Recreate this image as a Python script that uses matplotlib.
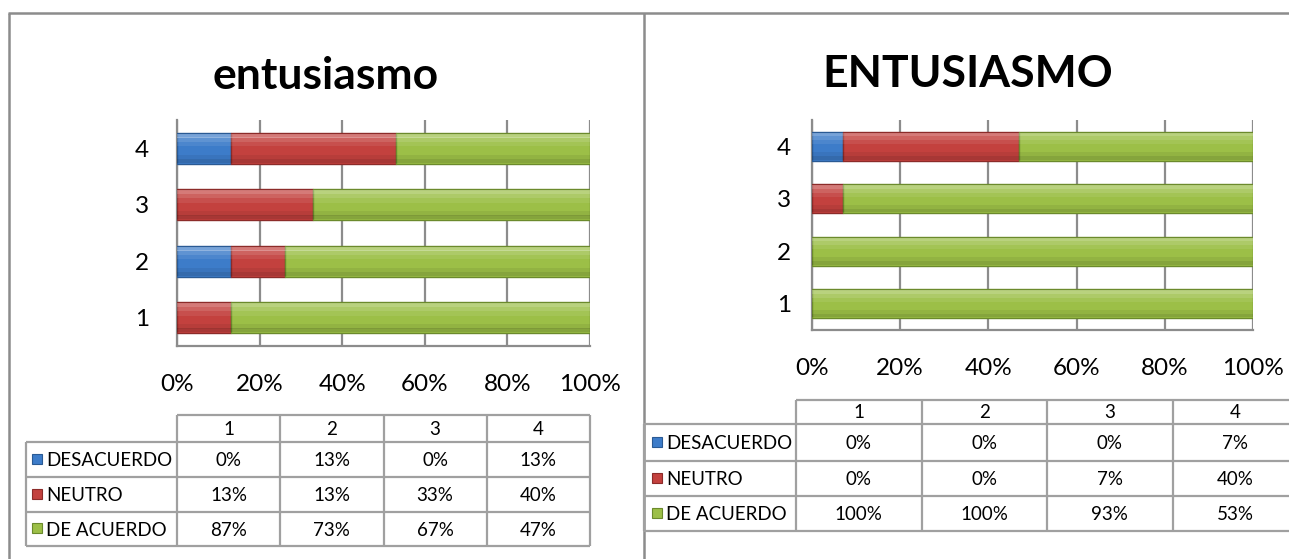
import matplotlib
matplotlib.use("Agg")
import matplotlib.pyplot as plt
from matplotlib.lines import Line2D
from matplotlib.patches import Rectangle

plt.rcParams['font.family'] = ['Lato', 'DejaVu Sans']

# ---------------- data ----------------
categories = ["1", "2", "3", "4"]
series_names = ["DESACUERDO", "NEUTRO", "DE ACUERDO"]
left_title = "entusiasmo"
right_title = "ENTUSIASMO"
left_desacuerdo = [0, 13, 0, 13]
left_neutro = [13, 13, 33, 40]
left_de_acuerdo = [87, 73, 67, 47]
right_desacuerdo = [0, 0, 0, 7]
right_neutro = [0, 0, 7, 40]
right_de_acuerdo = [100, 100, 93, 53]
x_ticks = [0, 20, 40, 60, 80, 100]

colors = ["#3D7CC9", "#C3413E", "#9CBF47"]
edges = ["#2A5A94", "#8C2B29", "#6B8A2C"]

W, H = 1289, 559
fig = plt.figure(figsize=(W / 100, H / 100), dpi=100)
fig.patch.set_facecolor("white")

ov = fig.add_axes([0, 0, 1, 1])
ov.set_xlim(0, W)
ov.set_ylim(H, 0)
ov.axis("off")

def box(x0, y0, x1, y1):
    return [x0 / W, 1 - y1 / H, (x1 - x0) / W, (y1 - y0) / H]

def hline(y, x0, x1, c="#A0A0A0", lw=1.6):
    ov.add_line(Line2D([x0, x1], [y, y], color=c, lw=lw, solid_capstyle="butt"))

def vline(x, y0, y1, c="#A0A0A0", lw=1.6):
    ov.add_line(Line2D([x, x], [y0, y1], color=c, lw=lw, solid_capstyle="butt"))

# panel borders
border = "#8C8C8C"
hline(13, 8, 1289, c=border, lw=1.8)
vline(9, 13, 559, c=border, lw=1.8)
vline(643.5, 13, 559, c=border, lw=1.8)

# bevel shading bands: (relative offset from centre, relative height, colour, alpha)
bands = [(0.40, 0.12, "white", 0.30), (0.28, 0.14, "white", 0.18), (0.14, 0.14, "white", 0.08),
         (-0.28, 0.14, "black", 0.06), (-0.40, 0.12, "black", 0.14)]

def draw_bars(rect, data, title, title_xy, xpad, ypad):
    ax = fig.add_axes(box(*rect))
    ax.patch.set_alpha(0)
    ypos = list(range(len(categories)))
    totals = [sum(col) for col in zip(*data)]
    left = [0.0] * len(categories)
    h = 0.55
    for vals, c, e in zip(data, colors, edges):
        pct = [v / t * 100 for v, t in zip(vals, totals)]
        ax.barh(ypos, pct, left=left, height=h, color=c, edgecolor=e, linewidth=1.0, zorder=3)
        for off, bh, bc, al in bands:
            ax.barh([p + off * h for p in ypos], pct, left=left, height=bh * h,
                    color=bc, alpha=al, linewidth=0, zorder=4)
        left = [a + b for a, b in zip(left, pct)]
    ax.set_xlim(0, 100)
    ax.set_ylim(-0.5, len(categories) - 0.5)
    ax.set_xticks(x_ticks)
    ax.set_xticklabels([f"{t}%" for t in x_ticks])
    ax.set_yticks(ypos)
    ax.set_yticklabels(categories)
    ax.grid(axis="x", color="#8C8C8C", lw=1.6, zorder=0)
    ax.set_axisbelow(True)
    for s in ["top", "right"]:
        ax.spines[s].set_visible(False)
    for s in ["left", "bottom"]:
        ax.spines[s].set_color("#8C8C8C")
        ax.spines[s].set_linewidth(1.6)
    ax.tick_params(axis="x", length=0, pad=xpad, labelsize=17.5)
    ax.tick_params(axis="y", length=0, pad=ypad, labelsize=17.5)
    ov.text(title_xy[0], title_xy[1], title, ha="center", va="center",
            fontsize=32, fontweight="bold")
    return ax

draw_bars((177, 120, 590, 346), [left_desacuerdo, left_neutro, left_de_acuerdo],
          left_title, (326, 76), 20, 20)
draw_bars((812, 120, 1253, 330), [right_desacuerdo, right_neutro, right_de_acuerdo],
          right_title, (968, 74), 20, 15)

def draw_table(lab_x0, col_edges, row_edges, data, sq_x):
    tc = "#A0A0A0"
    x_end = min(col_edges[-1], W)
    hline(row_edges[0], col_edges[0], x_end, tc)
    for y in row_edges[1:]:
        hline(y, lab_x0, x_end, tc)
    vline(lab_x0, row_edges[1], row_edges[-1], tc)
    for x in col_edges:
        if x <= W:
            vline(x, row_edges[0], row_edges[-1], tc)
    fs = 13.5
    for j, cat in enumerate(categories):
        cx = (col_edges[j] + col_edges[j + 1]) / 2
        ov.text(cx, (row_edges[0] + row_edges[1]) / 2 + 1, cat, ha="center", va="center", fontsize=fs)
    for i, (name, vals) in enumerate(zip(series_names, data)):
        cy = (row_edges[i + 1] + row_edges[i + 2]) / 2
        ov.add_patch(Rectangle((sq_x, cy - 6), 10, 10, facecolor=colors[i], edgecolor=edges[i], lw=0.8))
        ov.text(sq_x + 14, cy + 1, name, ha="left", va="center", fontsize=fs)
        for j, v in enumerate(vals):
            cx = (col_edges[j] + col_edges[j + 1]) / 2
            ov.text(cx, cy + 1, f"{v}%", ha="center", va="center", fontsize=fs)

draw_table(26, [177, 280.25, 383.5, 486.75, 590], [415, 442, 477, 512, 546],
           [left_desacuerdo, left_neutro, left_de_acuerdo], 32)
draw_table(644, [796, 921.5, 1047, 1172.5, 1298], [400, 424, 461, 496, 531],
           [right_desacuerdo, right_neutro, right_de_acuerdo], 652)

fig.savefig("out.png", dpi=100, facecolor="white")
